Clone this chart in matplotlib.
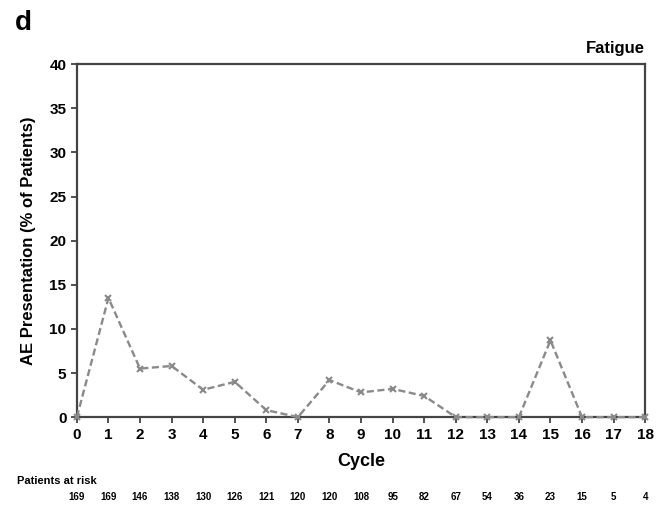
import matplotlib
matplotlib.use("Agg")
import matplotlib.pyplot as plt

# Data
cycles = list(range(0, 19))
fatigue_pct = [0, 13.5, 5.5, 5.8, 3.1, 4.0, 0.8, 0, 4.2, 2.8, 3.2, 2.4, 0, 0, 0, 8.7, 0, 0, 0]
at_risk = [169, 169, 146, 138, 130, 126, 121, 120, 120, 108, 95, 82, 67, 54, 36, 23, 15, 5, 4]
y_ticks = [0, 5, 10, 15, 20, 25, 30, 35, 40]

plt.rcParams['font.family'] = ['Liberation Sans', 'DejaVu Sans']
plt.rcParams['font.weight'] = 'bold'

fig = plt.figure(figsize=(6.57, 5.05), dpi=100)
ax = fig.add_axes([0.117, 0.174, 0.865, 0.699])

ax.plot(cycles, fatigue_pct, color='#8a8a8a', linestyle=(0, (3, 1.5)), linewidth=1.7,
        marker='x', markersize=5, markeredgewidth=1.5, clip_on=False, zorder=3)

ax.set_xlim(0, 18)
ax.set_ylim(0, 40)
ax.set_xticks(cycles)
ax.set_yticks(y_ticks)
ax.tick_params(axis='both', labelsize=11, direction='out', length=4, width=1.2, colors='#333333')
for lbl in ax.get_xticklabels() + ax.get_yticklabels():
    lbl.set_fontweight('bold')
    lbl.set_color('black')

for s in ax.spines.values():
    s.set_linewidth(1.6)
    s.set_color('#444444')

ax.set_ylabel('AE Presentation (% of Patients)', fontsize=12, fontweight='bold', labelpad=10)
ax.text(0.5, -0.127, 'Cycle', transform=ax.transAxes, ha='center', va='center',
        fontsize=13, fontweight='bold')

# patients at risk row
ax.text(-0.105, -0.181, 'Patients at risk', transform=ax.transAxes, ha='left', va='center',
        fontsize=8, fontweight='bold')
tr = ax.get_xaxis_transform()
for c, n in zip(cycles, at_risk):
    ax.text(c, -0.227, str(n), transform=tr, ha='center', va='center', fontsize=7, fontweight='bold')

ax.text(1.0, 1.045, 'Fatigue', transform=ax.transAxes, ha='right', va='center',
        fontsize=12, fontweight='bold')
fig.text(0.022, 0.955, 'd', fontsize=20, fontweight='bold', ha='left', va='center')

fig.savefig('out.png', dpi=100)
